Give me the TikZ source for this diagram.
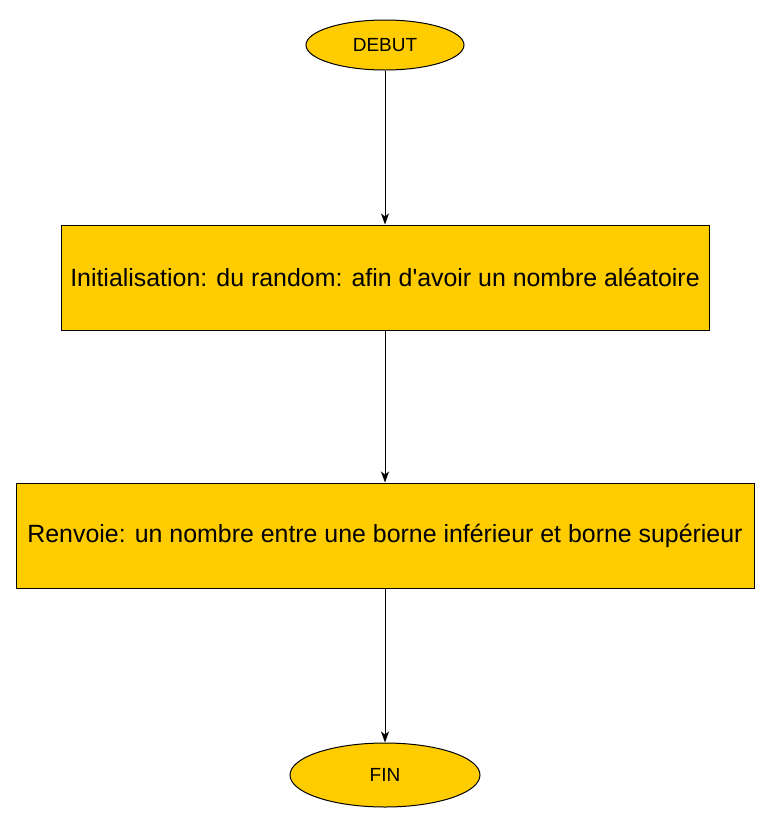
\documentclass[tikz,border=0pt]{standalone}
\usepackage{fontspec}
\setmainfont{Liberation Sans}
\usetikzlibrary{shapes.geometric,arrows.meta}
\definecolor{flowyellow}{HTML}{FFCC00}
\begin{document}
\begin{tikzpicture}[x=1pt,y=-1pt,
  terminal/.style={ellipse,draw,fill=flowyellow,line width=1pt,inner sep=0pt,font=\fontsize{19}{23}\selectfont},
  process/.style={rectangle,draw,fill=flowyellow,line width=1pt,inner sep=0pt,minimum height=105pt,font=\fontsize{24.9}{29}\selectfont},
  flow/.style={-{Stealth[length=11pt,width=8pt,inset=3pt]},line width=1pt}]

\useasboundingbox (0,0) rectangle (770,823);
\draw (385,45) node[terminal,minimum width=158pt,minimum height=50pt] (debut) {DEBUT};
\draw (385,277.5) node[process,minimum width=648pt] (init) {Initialisation: du random: afin d\textquotesingle avoir un nombre aléatoire};
\draw (385,535.5) node[process,minimum width=738pt] (renvoie) {Renvoie: un nombre entre une borne inférieur et borne supérieur};
\draw (385,775) node[terminal,minimum width=190pt,minimum height=64pt] (fin) {FIN};

\draw[flow] (debut) -- (init);
\draw[flow] (init) -- (renvoie);
\draw[flow] (renvoie) -- (fin);
\end{tikzpicture}
\end{document}
